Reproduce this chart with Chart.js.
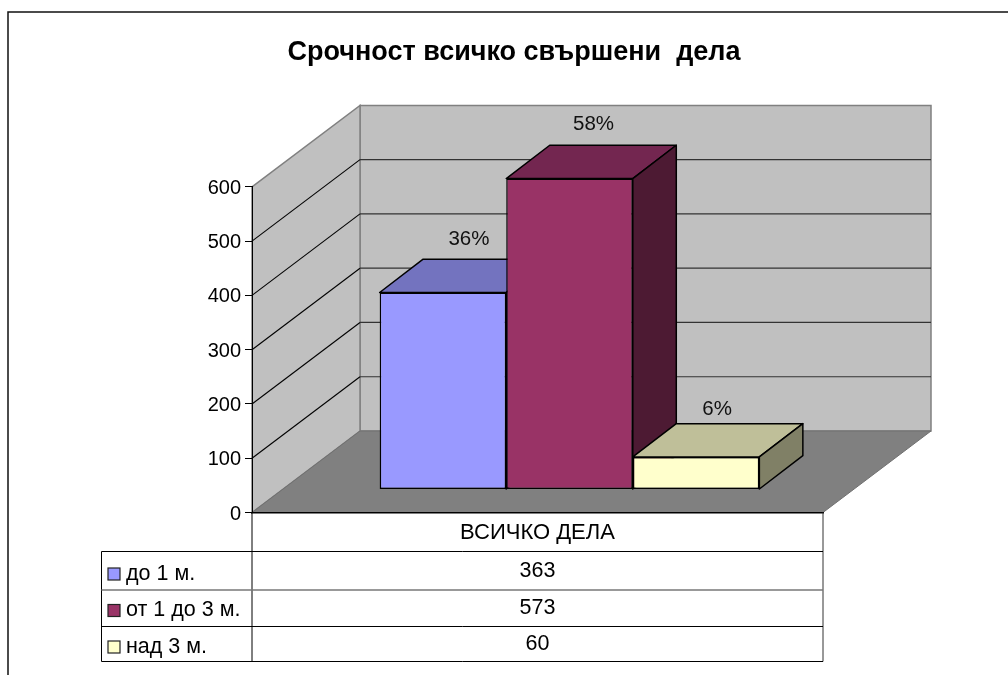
<!DOCTYPE html>
<html>
<head>
<meta charset="utf-8">
<style>
  body { margin: 0; background: #fff; }
  canvas { display: block; }
</style>
<script src="https://cdn.jsdelivr.net/npm/chart.js@4"></script>
</head>
<body>
<canvas id="chart" width="1008" height="675"></canvas>
<script>
const chartTitle = 'Срочност всичко свършени  дела';
const categories = ['ВСИЧКО ДЕЛА'];
const seriesNames = ['до 1 м.', 'от 1 до 3 м.', 'над 3 м.'];
const seriesValues = [363, 573, 60];
const percentLabels = ['36%', '58%', '6%'];
const tickValues = [0, 100, 200, 300, 400, 500, 600];

const frontColors = ['#9999FF', '#993366', '#FFFFCC'];
const topColors = ['#7373BF', '#732650', '#BFBF99'];
const sideColors = ['#4D4D80', '#4D1A33', '#808066'];

const FONT = '"Liberation Sans", Arial, sans-serif';

// wall depth, bar depth and how far the bars sit behind the front edge
const WALL_DX = 108, WALL_DY = -81.5;
const BAR_DX = 43.5, BAR_DY = -33.3;
const SHIFT_DX = 32, SHIFT_DY = -23;
// percent label position relative to the bar's front top centre
const LABEL_DX = [26, 24, 21], LABEL_DY = [-53, -54.5, -48];

function poly(ctx, pts, fill, stroke) {
  ctx.beginPath();
  pts.forEach((p, i) => i ? ctx.lineTo(p[0], p[1]) : ctx.moveTo(p[0], p[1]));
  ctx.closePath();
  if (fill) { ctx.fillStyle = fill; ctx.fill(); }
  if (stroke) { ctx.strokeStyle = stroke; ctx.stroke(); }
}

function line(ctx, x1, y1, x2, y2, color, width) {
  ctx.beginPath();
  ctx.moveTo(x1, y1);
  ctx.lineTo(x2, y2);
  ctx.strokeStyle = color;
  ctx.lineWidth = width || 1;
  ctx.stroke();
}

// walls, floor, grid and outer frame go under the bars
const wallsPlugin = {
  id: 'walls',
  beforeDraw(chart) {
    const { ctx, chartArea: a, scales } = chart;
    ctx.save();
    ctx.fillStyle = '#fff';
    ctx.fillRect(0, 0, chart.width, chart.height);

    // frame: left and top only, the picture cuts the rest off
    ctx.beginPath();
    ctx.moveTo(8, 675);
    ctx.lineTo(8, 12);
    ctx.lineTo(1008, 12);
    ctx.strokeStyle = '#111';
    ctx.lineWidth = 1.5;
    ctx.stroke();

    const y0 = scales.y.getPixelForValue(0);
    const yTop = scales.y.getPixelForValue(tickValues[tickValues.length - 1]);
    ctx.lineWidth = 1.5;
    poly(ctx, [[a.left + WALL_DX, yTop + WALL_DY], [a.right + WALL_DX, yTop + WALL_DY], [a.right + WALL_DX, y0 + WALL_DY], [a.left + WALL_DX, y0 + WALL_DY]], '#C0C0C0', '#808080');
    poly(ctx, [[a.left, yTop], [a.left + WALL_DX, yTop + WALL_DY], [a.left + WALL_DX, y0 + WALL_DY], [a.left, y0]], '#C0C0C0', '#808080');
    ctx.lineWidth = 1;
    poly(ctx, [[a.left, y0], [a.right, y0], [a.right + WALL_DX, y0 + WALL_DY], [a.left + WALL_DX, y0 + WALL_DY]], '#808080', '#707070');

    tickValues.slice(1, -1).forEach(v => {
      const y = scales.y.getPixelForValue(v);
      line(ctx, a.left, y, a.left + WALL_DX, y + WALL_DY, '#000', 1.1);
      line(ctx, a.left + WALL_DX, y + WALL_DY, a.right + WALL_DX, y + WALL_DY, '#333', 1.2);
    });
    ctx.restore();
  },
  beforeDatasetsDraw(chart) {
    const ctx = chart.ctx;
    ctx.save();
    ctx.translate(SHIFT_DX, SHIFT_DY);
    ctx.lineWidth = 1.5;
    ctx.lineJoin = 'round';
    // tops and sides left to right, the fronts come from the library after this
    seriesValues.forEach((v, i) => {
      const bar = chart.getDatasetMeta(i).data[0];
      const left = bar.x - bar.width / 2, right = bar.x + bar.width / 2;
      poly(ctx, [[left, bar.y], [left + BAR_DX, bar.y + BAR_DY], [right + BAR_DX, bar.y + BAR_DY], [right, bar.y]], topColors[i], '#000');
      poly(ctx, [[right, bar.y], [right + BAR_DX, bar.y + BAR_DY], [right + BAR_DX, bar.base + BAR_DY], [right, bar.base]], sideColors[i], '#000');
    });
  },
  afterDatasetsDraw(chart) {
    const ctx = chart.ctx;
    ctx.restore();
    ctx.save();
    ctx.font = '20.5px ' + FONT;
    ctx.fillStyle = '#111';
    ctx.textAlign = 'center';
    ctx.textBaseline = 'middle';
    seriesValues.forEach((v, i) => {
      const bar = chart.getDatasetMeta(i).data[0];
      ctx.fillText(percentLabels[i], bar.x + SHIFT_DX + LABEL_DX[i], bar.y + SHIFT_DY + LABEL_DY[i]);
    });
    ctx.restore();
  },
  // data table under the floor
  afterDraw(chart) {
    const { ctx, chartArea: a } = chart;
    const tableLeft = 101.5, rowLines = [551.5, 590, 626.5, 661.5];
    const nameRows = [574, 610, 647], valueRows = [571, 608, 644.5], swatchRows = [568, 604.5, 641];
    ctx.save();
    line(ctx, a.left, a.bottom, a.left, rowLines[3], '#000');
    line(ctx, a.right, a.bottom, a.right, rowLines[3], '#333');
    line(ctx, tableLeft, rowLines[0], tableLeft, rowLines[3], '#000');
    rowLines.forEach((y, i) => line(ctx, tableLeft, y, a.right, y, i === 1 ? '#777' : '#000', i === 1 ? 1.5 : 1));

    ctx.textBaseline = 'middle';
    seriesNames.forEach((name, i) => {
      ctx.fillStyle = frontColors[i];
      ctx.strokeStyle = '#222';
      ctx.lineWidth = 1.2;
      ctx.fillRect(108, swatchRows[i], 12, 12);
      ctx.strokeRect(108, swatchRows[i], 12, 12);
      ctx.fillStyle = '#000';
      ctx.font = '21.5px ' + FONT;
      ctx.textAlign = 'left';
      ctx.fillText(name, 126, nameRows[i]);
      ctx.textAlign = 'center';
      ctx.fillText(String(seriesValues[i]), (a.left + a.right) / 2, valueRows[i]);
    });
    ctx.restore();
  }
};

new Chart(document.getElementById('chart'), {
  type: 'bar',
  data: {
    labels: categories,
    datasets: seriesNames.map((name, i) => ({
      label: name,
      data: [seriesValues[i]],
      backgroundColor: frontColors[i],
      borderColor: '#000',
      borderWidth: 1.5,
      borderSkipped: false,
      clip: false
    }))
  },
  options: {
    responsive: false,
    animation: false,
    categoryPercentage: 0.665,
    barPercentage: 1,
    layout: { padding: { left: 0, top: 0, right: 185, bottom: 0 } },
    plugins: {
      legend: { display: false },
      tooltip: { enabled: false },
      title: {
        display: true,
        text: chartTitle,
        color: '#000',
        font: { family: FONT, size: 27, weight: 'bold', lineHeight: 1.2 },
        padding: { top: 36.5, bottom: 118 }
      }
    },
    scales: {
      x: {
        afterFit: s => { s.height = 162.5; },
        grid: { display: false, drawTicks: false },
        border: { color: '#000', width: 1.5 },
        ticks: { color: '#000', padding: 7, maxRotation: 0, font: { family: FONT, size: 22 } }
      },
      y: {
        min: 0,
        max: 600,
        afterFit: s => { s.width = 252; },
        afterBuildTicks: s => { s.ticks = tickValues.map(v => ({ value: v })); },
        grid: { drawOnChartArea: false, tickLength: 7, tickColor: '#000' },
        border: { color: '#000' },
        ticks: { color: '#000', padding: 4, labelOffset: 1.5, font: { family: FONT, size: 20 } }
      }
    }
  },
  plugins: [wallsPlugin, {
    id: 'titleSpot',
    afterLayout(chart) {
      // title sits over the whole frame, not only the plot
      chart.titleBlock.left = 20;
      chart.titleBlock.right = 1008;
    }
  }]
});
</script>
</body>
</html>
